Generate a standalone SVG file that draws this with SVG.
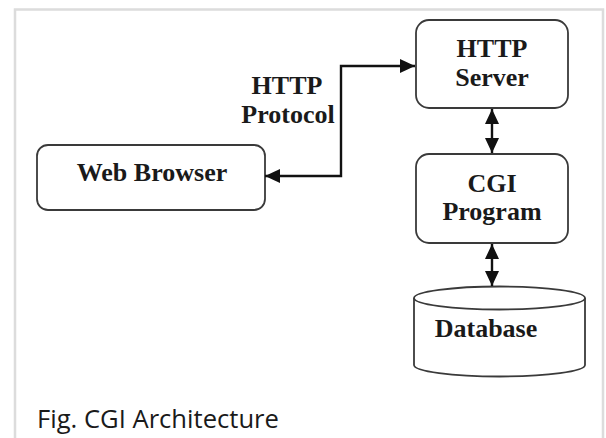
<svg xmlns="http://www.w3.org/2000/svg" width="606" height="438" viewBox="0 0 606 438">
  <style>
    .frame { fill: none; stroke: #dcdcdc; stroke-width: 2.5; }
    .box { fill: #ffffff; stroke: #3a3a3a; stroke-width: 1.8; }
    .label { font-family: "Liberation Serif", "Times New Roman", serif; font-weight: bold; font-size: 26px; fill: #1a1a1a; text-anchor: middle; }
    .wire { fill: none; stroke: #111111; stroke-width: 2.4; }
    .caption { font-family: "Open Sans", "Noto Sans", sans-serif; font-size: 25.6px; fill: #1a1a1a; }
  </style>
  <defs>
    <marker id="head" viewBox="0 0 15 14" refX="15" refY="7" markerWidth="15" markerHeight="14" markerUnits="userSpaceOnUse" orient="auto-start-reverse">
      <path d="M0,0 L15,7 L0,14 Z" fill="#111111"/>
    </marker>
  </defs>

  <rect width="606" height="438" fill="#ffffff"/>
  <!-- page frame (open at the bottom) -->
  <path class="frame" d="M15,438 L15,9.5 L603,9.5 L603,438"/>

  <g id="web-browser">
    <rect class="box" x="37" y="145" width="228" height="65" rx="11"/>
    <text class="label" x="152" y="181">Web Browser</text>
  </g>

  <g id="http-server">
    <rect class="box" x="416" y="20" width="152" height="88" rx="13"/>
    <text class="label" x="492" y="57">HTTP</text>
    <text class="label" x="492" y="86">Server</text>
  </g>

  <g id="cgi-program">
    <rect class="box" x="416" y="154" width="152" height="89" rx="13"/>
    <text class="label" x="492" y="192">CGI</text>
    <text class="label" x="492" y="220">Program</text>
  </g>

  <g id="database">
    <path class="box" d="M414,298 L414,365 A85.5,11.5 0 0 0 585,365 L585,298"/>
    <ellipse class="box" cx="499.5" cy="298" rx="85.5" ry="11.5"/>
    <text class="label" x="486" y="337">Database</text>
  </g>

  <g id="connectors">
    <path class="wire" d="M265,176 L341,176 L341,66 L415,66" marker-start="url(#head)" marker-end="url(#head)"/>
    <text class="label" x="287" y="94">HTTP</text>
    <text class="label" x="288" y="123">Protocol</text>
    <path class="wire" d="M492,109 L492,153" marker-start="url(#head)" marker-end="url(#head)"/>
    <path class="wire" d="M492,244 L492,286" marker-start="url(#head)" marker-end="url(#head)"/>
  </g>

  <text class="caption" x="37" y="428">Fig. CGI Architecture</text>
</svg>
